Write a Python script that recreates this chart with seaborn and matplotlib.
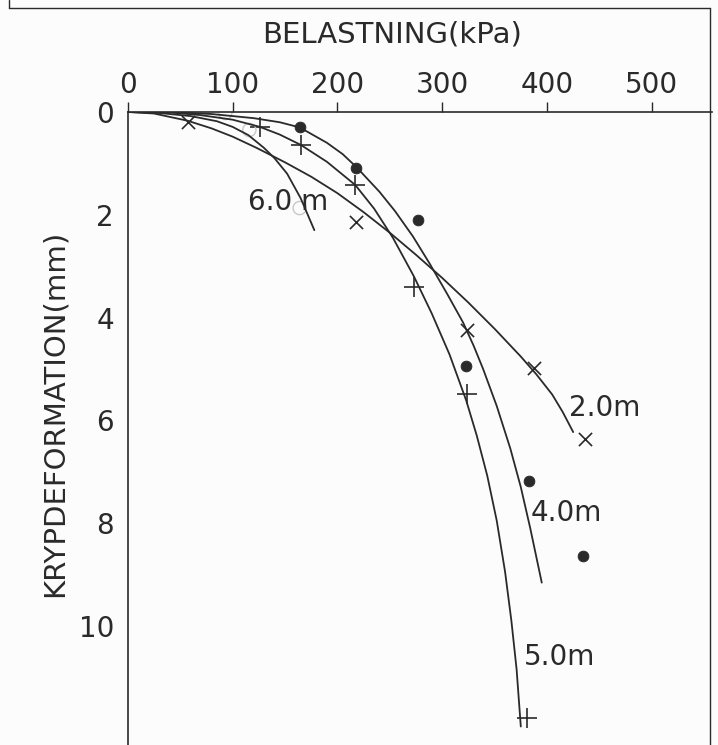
import numpy as np
import pandas as pd
import matplotlib
matplotlib.use("Agg")
import matplotlib.pyplot as plt
import seaborn as sns
from matplotlib.lines import Line2D

# fitted curves: load (kPa) vs creep deformation (mm)
curve_20_x = [0, 25, 57, 80, 100, 123, 150, 175, 200, 225, 250, 275, 300,
              325, 350, 375, 390, 405, 415, 425]
curve_20_y = [0, 0.03, 0.17, 0.32, 0.48, 0.70, 0.98, 1.26, 1.58, 1.95, 2.35,
              2.78, 3.23, 3.71, 4.22, 4.76, 5.11, 5.50, 5.84, 6.23]
curve_40_x = [0, 40, 80, 120, 145, 164, 190, 205, 218, 240, 255, 272, 288,
              305, 320, 330, 339, 352, 365, 375, 384, 395]
curve_40_y = [0, 0.0, 0.04, 0.12, 0.2, 0.30, 0.60, 0.82, 1.07, 1.55, 1.93,
              2.42, 2.95, 3.55, 4.10, 4.55, 5.00, 5.72, 6.55, 7.30, 8.10, 9.16]
curve_50_x = [0, 40, 69, 100, 126, 145, 165, 190, 217, 235, 253, 273, 290,
              307, 323, 333, 343, 352, 360, 366, 371, 375]
curve_50_y = [0, 0.01, 0.06, 0.15, 0.29, 0.44, 0.64, 0.97, 1.42, 1.88, 2.45,
              3.20, 3.92, 4.72, 5.62, 6.30, 7.08, 7.95, 8.95, 9.90, 10.85,
              11.96]
curve_60_x = [0, 30, 60, 85, 100, 115, 130, 140, 152, 165, 178]
curve_60_y = [0, 0.02, 0.08, 0.18, 0.29, 0.45, 0.70, 0.90, 1.20, 1.68, 2.30]

# measured points
pts_20_x = [57, 218, 324, 388, 436]
pts_20_y = [0.19, 2.14, 4.24, 4.98, 6.36]
pts_40_x = [164, 218, 277, 323, 383, 434]
pts_40_y = [0.29, 1.09, 2.10, 4.94, 7.18, 8.64]
pts_50_x = [126, 165, 217, 273, 324, 381]
pts_50_y = [0.29, 0.64, 1.42, 3.40, 5.49, 11.79]
pts_60_x = [93, 116, 164]
pts_60_y = [0.02, 0.35, 1.87]

labels = ["2.0m", "4.0m", "5.0m", "6.0 m"]
label_x = [421, 384, 378, 115]
label_y = [5.76, 7.8, 10.6, 1.75]

sns.set_style("white")
plt.rcParams["font.family"] = ["DejaVu Sans"]
ink = "#2a2a2a"

fig = plt.figure(figsize=(7.18, 7.45), dpi=100)
fig.patch.set_facecolor("#fcfcfc")
ax = fig.add_axes([0.178, 0.0, 0.813, 0.8497])
ax.set_facecolor("#fcfcfc")

for cx, cy in [(curve_20_x, curve_20_y), (curve_40_x, curve_40_y),
               (curve_50_x, curve_50_y), (curve_60_x, curve_60_y)]:
    df = pd.DataFrame({"x": cx, "y": cy})
    sns.lineplot(data=df, x="x", y="y", sort=False, estimator=None,
                 color=ink, lw=1.3, ax=ax)

sns.scatterplot(x=pts_20_x, y=pts_20_y, marker="x", s=90, color=ink,
                linewidth=1.2, ax=ax)
sns.scatterplot(x=pts_40_x, y=pts_40_y, marker="o", s=60, color=ink,
                edgecolor=ink, ax=ax)
sns.scatterplot(x=pts_50_x, y=pts_50_y, marker="+", s=200, color=ink,
                linewidth=1.2, ax=ax)
sns.scatterplot(x=pts_60_x, y=pts_60_y, marker="o", s=90, facecolor="none",
                edgecolor="#c8c8c8", linewidth=1.0, ax=ax)

for t, lx, ly in zip(labels, label_x, label_y):
    ax.text(lx, ly, t, fontsize=20, color=ink, ha="left", va="center")

ax.set_xlim(0, 557)
ax.set_ylim(12.32, 0)
ax.xaxis.tick_top()
ax.set_xticks([0, 100, 200, 300, 400, 500])
ax.set_yticks([0, 2, 4, 6, 8, 10])
ax.tick_params(axis="both", labelsize=20, colors=ink, length=7, width=1.0,
               direction="out", pad=3)
ax.tick_params(axis="x", pad=2)
ax.set_xlabel("")
ax.set_ylabel("")
for side in ["bottom", "right"]:
    ax.spines[side].set_visible(False)
for side in ["top", "left"]:
    ax.spines[side].set_color(ink)
    ax.spines[side].set_linewidth(1.2)

fig.text(392 / 718, 1 - 35 / 745, "BELASTNING(kPa)", fontsize=21, color=ink,
         ha="center", va="center")
fig.text(55 / 718, 1 - 413 / 745, "KRYPDEFORMATION(mm)", fontsize=21,
         color=ink, ha="center", va="center", rotation=90)

# outer frame of the scanned figure
for xs, ys in [([9, 9], [0, 8]), ([9, 710], [8, 8]), ([710, 710], [8, 745])]:
    fig.add_artist(Line2D([v / 718 for v in xs], [1 - v / 745 for v in ys],
                          color=ink, lw=1.0))

fig.savefig("out.png", dpi=100, facecolor=fig.get_facecolor())
